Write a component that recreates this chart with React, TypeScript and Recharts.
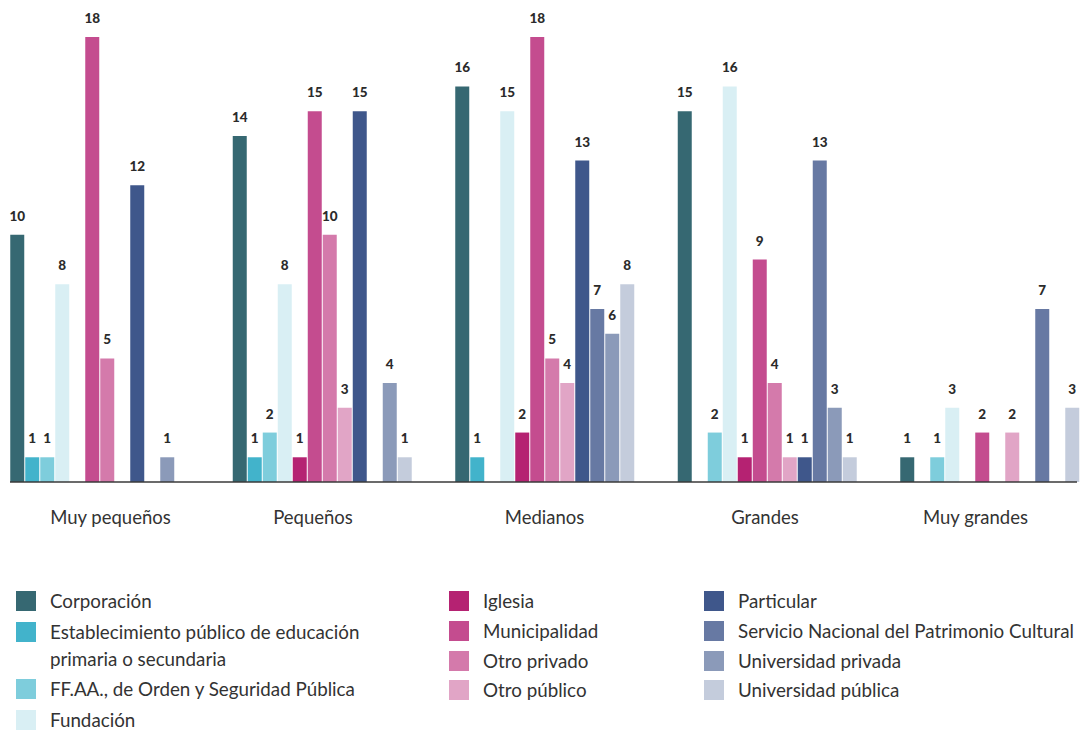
import React from 'react';
import { BarChart, Bar, XAxis, YAxis, LabelList } from 'recharts';

const categories = ['Muy pequeños', 'Pequeños', 'Medianos', 'Grandes', 'Muy grandes'];
const corporacion = [10, 14, 16, 15, 1];
const establecimiento = [1, 1, 1, 0, 0];
const ffaa = [1, 2, 0, 2, 1];
const fundacion = [8, 8, 15, 16, 3];
const iglesia = [0, 1, 2, 1, 0];
const municipalidad = [18, 15, 18, 9, 2];
const otroPrivado = [5, 10, 5, 4, 0];
const otroPublico = [0, 3, 4, 1, 2];
const particular = [12, 15, 13, 1, 0];
const servicio = [0, 0, 7, 13, 7];
const univPrivada = [1, 4, 6, 3, 0];
const univPublica = [0, 1, 8, 1, 3];

const seriesNames = [
  'Corporación',
  'Establecimiento público de educación primaria o secundaria',
  'FF.AA., de Orden y Seguridad Pública',
  'Fundación',
  'Iglesia',
  'Municipalidad',
  'Otro privado',
  'Otro público',
  'Particular',
  'Servicio Nacional del Patrimonio Cultural',
  'Universidad privada',
  'Universidad pública',
];
const seriesValues = [
  corporacion, establecimiento, ffaa, fundacion, iglesia, municipalidad,
  otroPrivado, otroPublico, particular, servicio, univPrivada, univPublica,
];
const colors = [
  '#366872', '#42b3cb', '#7ecddc', '#d9eff4',
  '#b52272', '#c44c8f', '#d47aab', '#e1a5c6',
  '#3f578b', '#6779a3', '#8b9ab9', '#c4ccdc',
];

const data = categories.map((name, i) => {
  const row: Record<string, any> = { name };
  seriesValues.forEach((vals, s) => {
    row['s' + s] = vals[i];
  });
  return row;
});

const FONT = 'Lato, "Open Sans", sans-serif';
const tickShift = [11, -9, 0, -2, -14];

const ValueLabel = (props: any) => {
  const { x, y, width, value } = props;
  if (!value) return null;
  return (
    <text
      x={Number(x) + Number(width) / 2}
      y={Number(y) - 14}
      textAnchor="middle"
      fontFamily={FONT}
      fontSize={13.5}
      fontWeight={900}
      fill="#2b2b2b"
    >
      {value}
    </text>
  );
};

const CategoryTick = (props: any) => {
  const { x, y, payload, index } = props;
  return (
    <text
      x={Number(x) + (tickShift[index] || 0)}
      y={Number(y)}
      dy={42}
      textAnchor="middle"
      fontFamily={FONT}
      fontSize={18.5}
      fill="#333"
    >
      {payload.value}
    </text>
  );
};

const legendCols = [
  { x: 16, items: [0, 1, 2, 3] },
  { x: 449, items: [4, 5, 6, 7] },
  { x: 704, items: [8, 9, 10, 11] },
];

const Legend = () => (
  <>
    {legendCols.map((col, ci) => (
      <div
        key={ci}
        style={{
          position: 'absolute',
          left: col.x,
          top: 587,
          display: 'flex',
          flexDirection: 'column',
        }}
      >
        {col.items.map((s) => (
          <div key={s} style={{ display: 'flex', alignItems: 'flex-start', marginBottom: ci === 0 ? 3.5 : 2.8 }}>
            <div
              style={{
                width: 20,
                height: 20,
                background: colors[s],
                marginTop: 4,
                flex: '0 0 auto',
              }}
            />
            <div
              style={{
                marginLeft: 14,
                fontFamily: FONT,
                fontSize: 18.8,
                lineHeight: '27px',
                color: '#333',
                maxWidth: ci === 0 ? 330 : 400,
                whiteSpace: ci === 0 ? 'normal' : 'nowrap',
              }}
            >
              {seriesNames[s]}
            </div>
          </div>
        ))}
      </div>
    ))}
  </>
);

export default function App() {
  return (
    <div
      style={{
        position: 'absolute',
        left: 0,
        top: 0,
        width: 1080,
        height: 732,
        overflow: 'hidden',
        background: '#fff',
      }}
    >
      <BarChart
        width={1080}
        height={732}
        data={data}
        margin={{ top: 37, right: 3, bottom: 0, left: 10 }}
        barGap={1}
        barSize={14}
      >
        <XAxis
          dataKey="name"
          height={250}
          padding={{ left: -21.75, right: -23.75 }}
          tickLine={false}
          tickSize={0}
          tickMargin={0}
          axisLine={{ stroke: '#3a3a3a', strokeWidth: 1.5 }}
          tick={<CategoryTick />}
          interval={0}
        />
        <YAxis hide domain={[0, 18]} />
        {seriesNames.map((n, s) => (
          <Bar key={s} dataKey={'s' + s} name={n} fill={colors[s]} isAnimationActive={false}>
            <LabelList dataKey={'s' + s} content={<ValueLabel />} />
          </Bar>
        ))}
      </BarChart>
      <Legend />
    </div>
  );
}
